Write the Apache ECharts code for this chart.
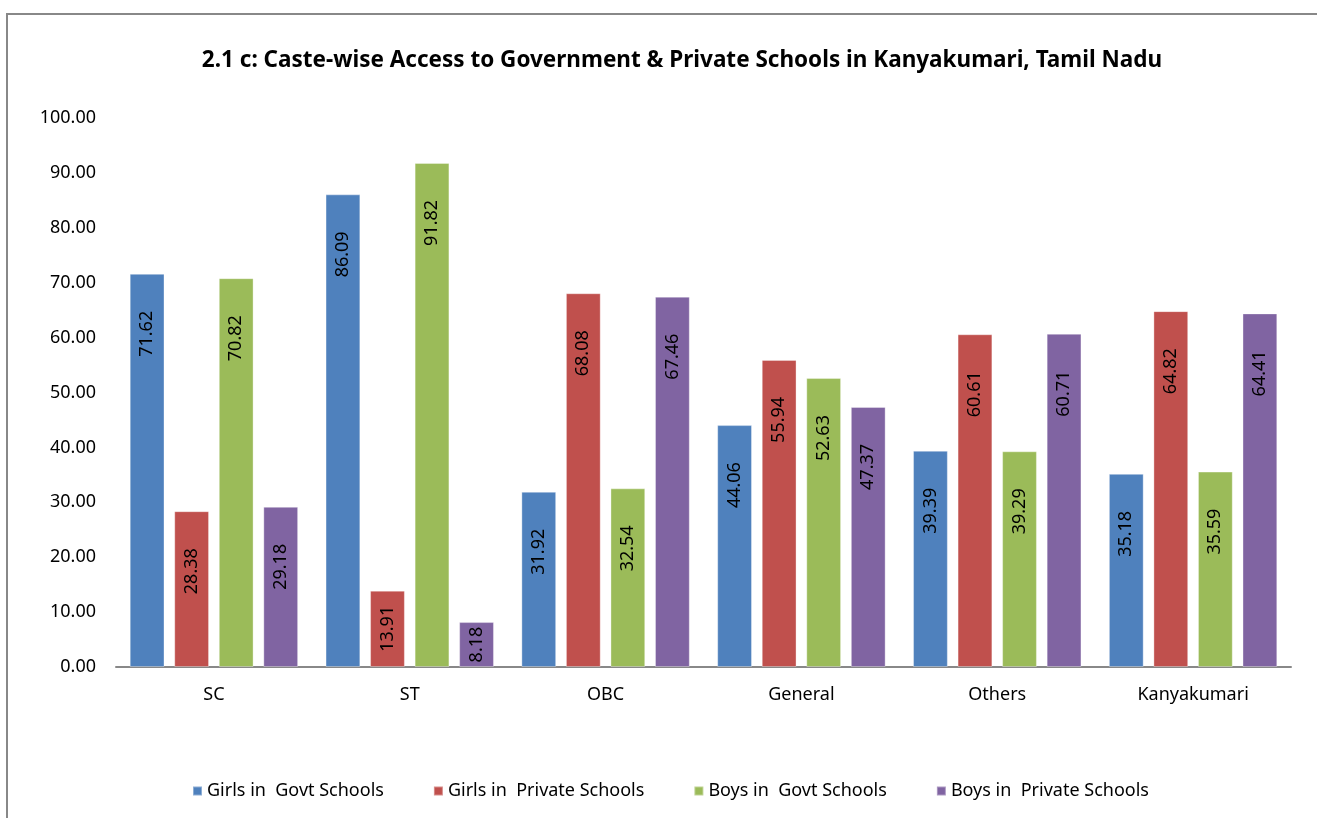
<!DOCTYPE html>
<html>
<head>
<meta charset="utf-8">
<script src="https://cdn.jsdelivr.net/npm/echarts@6/dist/echarts.min.js"></script>
<style>
  html, body { margin: 0; padding: 0; background: #fff; }
  #chart { width: 1317px; height: 818px; }
</style>
</head>
<body>
<div id="chart"></div>
<script>
// Caste groups along the x axis
const categories = ['SC', 'ST', 'OBC', 'General', 'Others', 'Kanyakumari'];

// Share of children (%) by school type
const girlsGovt    = [71.62, 86.09, 31.92, 44.06, 39.39, 35.18];
const girlsPrivate = [28.38, 13.91, 68.08, 55.94, 60.61, 64.82];
const boysGovt     = [70.82, 91.82, 32.54, 52.63, 39.29, 35.59];
const boysPrivate  = [29.18, 8.18, 67.46, 47.37, 60.71, 64.41];

const seriesNames = ['Girls in  Govt Schools', 'Girls in  Private Schools', 'Boys in  Govt Schools', 'Boys in  Private Schools'];
const seriesData = [girlsGovt, girlsPrivate, boysGovt, boysPrivate];
const colors = ['#4F81BD', '#C0504D', '#9BBB59', '#8064A2'];

const FONT = '"Noto Sans", "Open Sans", sans-serif';

// Short bars get their value label centred, taller ones hang it below the top
const SHORT_BAR = 20;
const toItems = arr => arr.map(v => v < SHORT_BAR
  ? { value: v, label: { position: 'inside', align: 'center' } }
  : { value: v });

const chart = echarts.init(document.getElementById('chart'), null, { renderer: 'canvas' });

chart.setOption({
  animation: false,
  textStyle: { fontFamily: FONT },
  color: colors,
  title: {
    text: '2.1 c: Caste-wise Access to Government & Private Schools in Kanyakumari, Tamil Nadu',
    left: 677,
    top: 44,
    textAlign: 'center',
    textStyle: { fontFamily: FONT, fontSize: 22.5, fontWeight: 'bold', color: '#000' }
  },
  graphic: [{
    type: 'rect',
    shape: { x: 7, y: 14, width: 1330, height: 830 },
    style: { fill: 'none', stroke: '#888', lineWidth: 2 },
    silent: true,
    z: -1
  }],
  legend: {
    bottom: 13,
    left: 187,
    itemWidth: 9,
    itemHeight: 9,
    itemGap: 49,
    icon: 'rect',
    textStyle: { fontFamily: FONT, fontSize: 18, color: '#000' },
    data: seriesNames
  },
  grid: { left: 116, right: 26, top: 118, bottom: 151, containLabel: false },
  xAxis: {
    type: 'category',
    data: categories,
    axisLine: { lineStyle: { color: '#888', width: 2 } },
    axisTick: { show: false },
    axisLabel: { fontFamily: FONT, fontSize: 18, color: '#000', margin: 19 }
  },
  yAxis: {
    type: 'value',
    min: 0,
    max: 100,
    interval: 10,
    axisLine: { show: false },
    axisTick: { show: false },
    splitLine: { show: false },
    axisLabel: {
      fontFamily: FONT, fontSize: 18, color: '#000', margin: 20,
      formatter: v => v.toFixed(2)
    }
  },
  series: seriesData.map((d, i) => ({
    name: seriesNames[i],
    type: 'bar',
    data: toItems(d),
    barGap: '28%',
    barCategoryGap: '14%',
    itemStyle: { color: colors[i], borderColor: 'rgba(255,255,255,0.35)', borderWidth: 1 },
    label: {
      show: true,
      position: 'insideTop',
      rotate: 90,
      align: 'right',
      verticalAlign: 'middle',
      distance: 37,
      fontFamily: FONT,
      fontSize: 18,
      color: '#000',
      formatter: p => p.value.toFixed(2)
    }
  }))
});
</script>
</body>
</html>
